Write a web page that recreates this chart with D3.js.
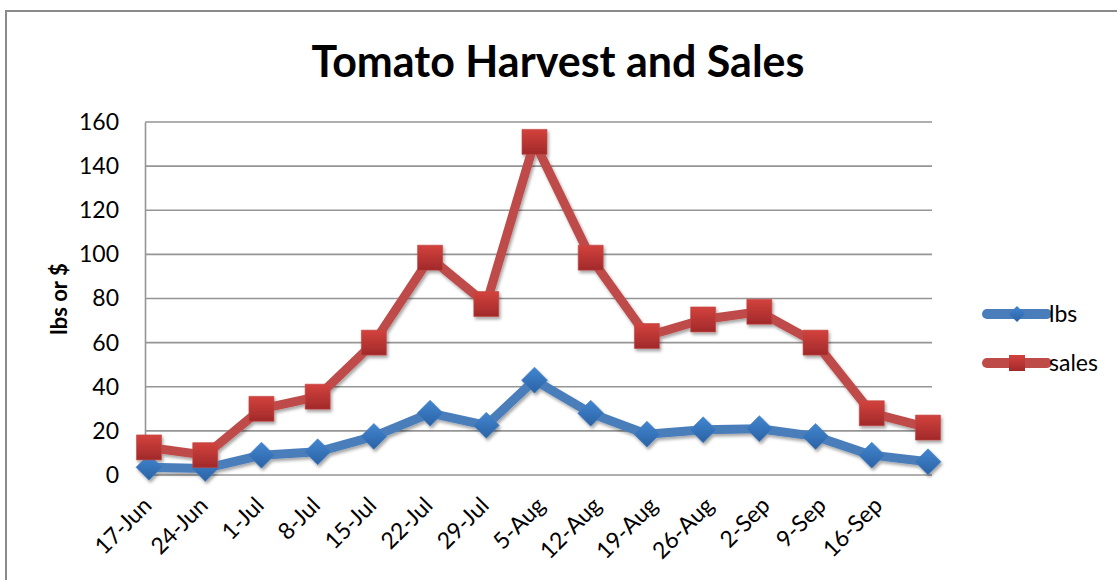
<!DOCTYPE html>
<html>
<head>
<meta charset="utf-8">
<script src="https://cdn.jsdelivr.net/npm/d3@7"></script>
<style>
body { margin: 0; background: #fff; }
svg { display: block; font-family: Lato, "Open Sans", sans-serif; }
</style>
</head>
<body>
<svg id="chart" width="1117" height="580"></svg>
<script>
// tick labels on the date axis (weekly)
const tickLabels = ["17-Jun", "24-Jun", "1-Jul", "8-Jul", "15-Jul", "22-Jul", "29-Jul",
    "5-Aug", "12-Aug", "19-Aug", "26-Aug", "2-Sep", "9-Sep", "16-Sep"]
// dates of the harvest records
const dates = ["17-Jun", "24-Jun", "1-Jul", "8-Jul", "15-Jul", "22-Jul", "29-Jul",
    "4-Aug", "11-Aug", "18-Aug", "25-Aug", "1-Sep", "8-Sep", "15-Sep", "22-Sep"]
const lbs = [3.5, 3, 9, 10.5, 17.5, 28, 22.5, 43, 28, 18.5, 20.5, 21, 17.5, 9, 6]
const sales = [12.5, 9, 30, 35.5, 60, 98.5, 77.5, 151, 98.5, 63, 70.5, 74, 60, 28, 21.5]
const yTicks = [0, 20, 40, 60, 80, 100, 120, 140, 160]
const seriesNames = ["lbs", "sales"]

const parse = d3.utcParse("%d-%b-%Y")
const toDate = s => parse(s + "-2012")
const halfDay = 12 * 3600 * 1000

const svg = d3.select("#chart")

// drop shadow + marker gradients
const defs = svg.append("defs")
const shadow = defs.append("filter").attr("id", "shadow")
    .attr("x", "-20%").attr("y", "-20%").attr("width", "140%").attr("height", "140%")
shadow.append("feDropShadow").attr("dx", 1.5).attr("dy", 2.5)
    .attr("stdDeviation", 1.8).attr("flood-color", "#000").attr("flood-opacity", 0.35)

function gradient(id, top, bottom) {
    var g = defs.append("linearGradient").attr("id", id)
        .attr("x1", 0).attr("y1", 0).attr("x2", 0).attr("y2", 1)
    g.append("stop").attr("offset", "0%").attr("stop-color", top)
    g.append("stop").attr("offset", "100%").attr("stop-color", bottom)
}
gradient("gradRed", "#d3423d", "#a1292a")
gradient("gradBlue", "#4186d0", "#2b62a5")

// chart border (only left and top visible in frame)
svg.append("rect").attr("x", 6).attr("y", 11).attr("width", 1300).attr("height", 800)
    .attr("fill", "none").attr("stroke", "#8a8a8a").attr("stroke-width", 2)

const x = d3.scaleUtc()
    .domain([toDate(dates[0]) - halfDay, +toDate(dates[dates.length - 1]) + halfDay])
    .range([145, 932])
const y = d3.scaleLinear().domain([0, 160]).range([475, 122])

// title
const title = svg.append("text")
    .attr("x", 558).attr("y", 77)
    .attr("text-anchor", "middle")
    .attr("font-weight", "bold")
    .attr("font-size", 44)
    .attr("fill", "#000")
    .text("Tomato Harvest and Sales")
var tw = title.node().getComputedTextLength()
title.attr("font-size", 44 * 493 / tw)

// gridlines
svg.append("g")
    .selectAll("line")
    .data(yTicks)
    .enter()
    .append("line")
      .attr("x1", 145).attr("x2", 932)
      .attr("y1", d => y(d)).attr("y2", d => y(d))
      .attr("stroke", "#959595").attr("stroke-width", 1.6)

// y axis
const yAxis = svg.append("g")
    .attr("transform", "translate(145,0)")
    .call(d3.axisLeft(y).tickValues(yTicks).tickSize(0).tickPadding(26))
yAxis.select(".domain").attr("stroke", "#959595").attr("stroke-width", 1.6)
yAxis.selectAll("text")
    .attr("font-family", "Lato, sans-serif")
    .attr("font-size", 23)
    .attr("fill", "#000")

svg.append("text")
    .attr("transform", "translate(67,299) rotate(-90)")
    .attr("text-anchor", "middle")
    .attr("font-weight", "bold")
    .attr("font-size", 22)
    .text("lbs or $")

// x axis labels
const tickDates = tickLabels.map(toDate)
svg.append("g")
    .selectAll("text")
    .data(tickDates)
    .enter()
    .append("text")
      .attr("transform", (d, i) => "translate(" + (x(d) + 4) + ",507) rotate(-45)")
      .attr("text-anchor", "end")
      .attr("font-size", 23)
      .text((d, i) => tickLabels[i])

// series
const diamond = r => "M0," + (-r) + "L" + r + ",0L0," + r + "L" + (-r) + ",0Z"
const square = r => "M" + (-r) + "," + (-r) + "H" + r + "V" + r + "H" + (-r) + "Z"

const series = [
    {name: seriesNames[0], values: lbs, line: "#4a7ebb", fill: "url(#gradBlue)", shape: diamond, size: 13, small: 8},
    {name: seriesNames[1], values: sales, line: "#be4b48", fill: "url(#gradRed)", shape: square, size: 12.5, small: 8}
]

const line = d3.line()
    .x(d => x(d.date))
    .y(d => y(d.value))

const plot = svg.append("g").attr("filter", "url(#shadow)")
series.forEach(function(s) {
    var pts = s.values.map((v, i) => ({date: toDate(dates[i]), value: v}))
    plot.append("path")
        .datum(pts)
        .attr("d", line)
        .attr("fill", "none")
        .attr("stroke", s.line)
        .attr("stroke-width", 9)
        .attr("stroke-linejoin", "round")
    plot.append("g")
        .selectAll("path")
        .data(pts)
        .enter()
        .append("path")
          .attr("transform", d => "translate(" + x(d.date) + "," + y(d.value) + ")")
          .attr("d", s.shape(s.size))
          .attr("fill", s.fill)
          .attr("stroke", s.line)
          .attr("stroke-opacity", 0.6)
          .attr("stroke-width", 1)
})

// legend
const legend = svg.append("g")
series.forEach(function(s, i) {
    var ly = 314 + i * 49
    var g = legend.append("g").attr("transform", "translate(987," + ly + ")")
    g.append("line")
        .attr("x1", 0).attr("x2", 60)
        .attr("stroke", s.line).attr("stroke-width", 10)
        .attr("stroke-linecap", "round")
    g.append("path")
        .attr("transform", "translate(30,0)")
        .attr("d", s.shape(s.small))
        .attr("fill", s.fill)
    g.append("text")
        .attr("x", 62).attr("dy", "0.35em")
        .attr("font-size", 23)
        .text(s.name)
})
</script>
</body>
</html>
